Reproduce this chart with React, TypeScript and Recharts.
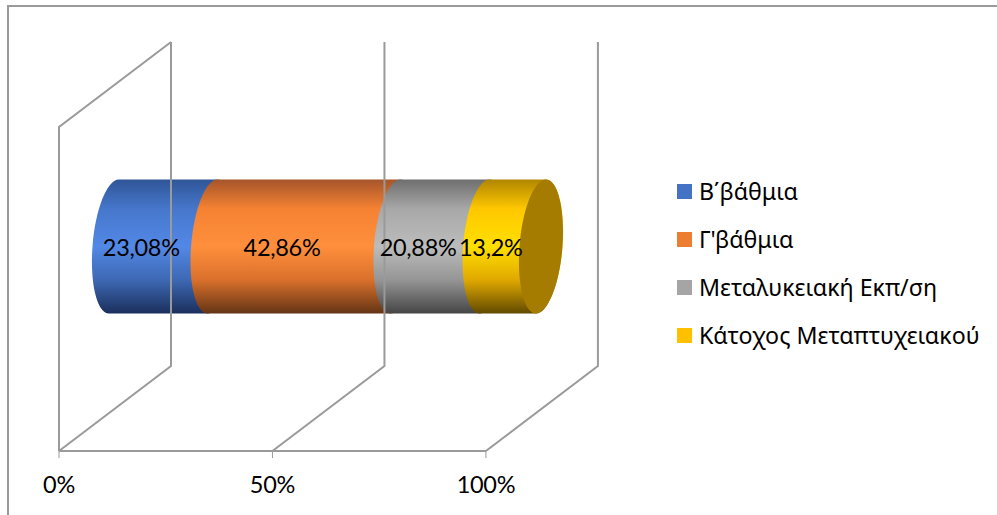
import React from "react";
import { BarChart, Bar, XAxis, YAxis, Legend, LabelList } from "recharts";

const WIDTH = 997;
const HEIGHT = 515;
const FONT = "Lato, 'Noto Sans', sans-serif";
const LEGEND_FONT = "'Noto Sans', Lato, sans-serif";

const categories = ["Επίπεδο εκπαίδευσης"];
const seriesNames = ["Β΄βάθμια", "Γ'βάθμια", "Μεταλυκειακή Εκπ/ση", "Κάτοχος Μεταπτυχειακού"];
const seriesValues = [23.08, 42.86, 20.88, 13.2];
const seriesColors = ["#4472C4", "#ED7D31", "#A5A5A5", "#FFC000"];
const axisTicks = [0, 50, 100];

// vertical shading of each cylinder section: edge, shoulder, middle, lower, edge
const shading = [
  ["#2f5597", "#4677cc", "#5288e6", "#3d68b3", "#1b2f5c"],
  ["#a5552a", "#f58233", "#ff8f3c", "#d9702b", "#643415"],
  ["#6e6e6e", "#a8a8a8", "#bcbcbc", "#959595", "#454545"],
  ["#b08600", "#ffc800", "#ffdf00", "#e0a800", "#614a00"],
];
const capColor = "#a67c00";
const gridColor = "#9a9a9a";

// the floor of the box recedes by this much from front to back
const DEPTH_X = 112;
const DEPTH_Y = 85;
const WALL_HEIGHT = 324;

// cross-section of the cylinder: half width and the lean of its top over its bottom
const CAP_RX = 21.5;
const CAP_LEAN = 5;
const K = 0.5523;

const rows = categories.map((name) => {
  const row: Record<string, string | number> = { name };
  seriesNames.forEach((s, i) => (row[s] = seriesValues[i]));
  return row;
});

const formatPercent = (v: number) => `${String(v).replace(".", ",")}%`;

function Tick3D({ x, y, payload }: any) {
  const backX = x + DEPTH_X;
  const backY = y - DEPTH_Y;
  return (
    <g>
      <line x1={x} y1={y} x2={x} y2={y + 7} stroke={gridColor} strokeWidth={1} />
      <path
        d={`M${x},${y} L${backX},${backY} L${backX},${backY - WALL_HEIGHT}`}
        fill="none"
        stroke={gridColor}
        strokeWidth={2}
      />
      {payload.value === 0 && (
        <path
          d={`M${x},${y} L${x},${y - WALL_HEIGHT} L${backX},${backY - WALL_HEIGHT}`}
          fill="none"
          stroke={gridColor}
          strokeWidth={2}
        />
      )}
      <text x={x} y={y + 42} textAnchor="middle" fontFamily={FONT} fontSize={23.5} letterSpacing={-0.3} fill="#000">
        {payload.value}%
      </text>
    </g>
  );
}

// Maps a point of the unit circle onto the leaning ellipse centred on (cx, cy).
const onCap = (cx: number, cy: number, ry: number, u: number, v: number) =>
  `${cx + CAP_RX * u + CAP_LEAN * v},${cy - ry * v}`;

// Curve down the left side of an ellipse, from its top to its bottom.
const leftSide = (cx: number, cy: number, ry: number) =>
  `C${onCap(cx, cy, ry, -K, 1)} ${onCap(cx, cy, ry, -1, K)} ${onCap(cx, cy, ry, -1, 0)} ` +
  `C${onCap(cx, cy, ry, -1, -K)} ${onCap(cx, cy, ry, -K, -1)} ${onCap(cx, cy, ry, 0, -1)}`;

// Curve up the right side of an ellipse, from its bottom to its top.
const rightSide = (cx: number, cy: number, ry: number) =>
  `C${onCap(cx, cy, ry, K, -1)} ${onCap(cx, cy, ry, 1, -K)} ${onCap(cx, cy, ry, 1, 0)} ` +
  `C${onCap(cx, cy, ry, 1, K)} ${onCap(cx, cy, ry, K, 1)} ${onCap(cx, cy, ry, 0, 1)}`;

function CylinderSection({ x, y, width, height, seriesIndex }: any) {
  // the cylinder sits halfway into the box depth
  const left = x + DEPTH_X / 2 - 1;
  const right = left + width;
  const ry = height / 2;
  const cy = y - DEPTH_Y / 2 + ry;
  const body =
    `M${onCap(left, cy, ry, 0, 1)} ${leftSide(left, cy, ry)} ` +
    `L${onCap(right, cy, ry, 0, -1)} ${rightSide(right, cy, ry)} Z`;
  const cap = `M${onCap(right, cy, ry, 0, 1)} ${leftSide(right, cy, ry)} ${rightSide(right, cy, ry)} Z`;
  return (
    <g>
      <path d={body} fill={`url(#section-${seriesIndex})`} />
      {seriesIndex === seriesNames.length - 1 && <path d={cap} fill={capColor} />}
    </g>
  );
}

function LegendList({ payload }: any) {
  return (
    <div>
      {(payload ?? []).map((item: any) => (
        <div
          key={item.value}
          style={{ height: 48, display: "flex", alignItems: "center", fontFamily: LEGEND_FONT, fontSize: 23.2, color: "#000", whiteSpace: "nowrap" }}
        >
          <span style={{ width: 15, height: 15, background: item.color, marginRight: 7, flex: "none" }} />
          {item.value}
        </div>
      ))}
    </div>
  );
}

export default function App() {
  return (
    <div style={{ position: "absolute", left: 0, top: 0, width: WIDTH, height: HEIGHT, background: "#fff", overflow: "hidden" }}>
      <div style={{ position: "absolute", left: 7, top: 5, width: WIDTH + 20, height: HEIGHT + 20, border: `2px solid ${gridColor}`, boxSizing: "border-box" }} />
      <BarChart
        width={WIDTH}
        height={HEIGHT}
        data={rows}
        layout="vertical"
        barSize={134}
        margin={{ left: 59, right: 191, top: 127, bottom: 0 }}
        style={{ position: "absolute", left: 0, top: 0 }}
      >
        <defs>
          {shading.map((stops, i) => (
            <linearGradient key={i} id={`section-${i}`} x1="0" y1="0" x2="0" y2="1">
              <stop offset="0%" stopColor={stops[0]} />
              <stop offset="22%" stopColor={stops[1]} />
              <stop offset="50%" stopColor={stops[2]} />
              <stop offset="75%" stopColor={stops[3]} />
              <stop offset="100%" stopColor={stops[4]} />
            </linearGradient>
          ))}
        </defs>
        <XAxis
          type="number"
          domain={[0, 100]}
          ticks={axisTicks}
          interval={0}
          height={64}
          stroke={gridColor}
          strokeWidth={2}
          tickLine={false}
          tickSize={0}
          tickMargin={0}
          tick={<Tick3D />}
        />
        <YAxis type="category" dataKey="name" hide />
        <Legend
          layout="vertical"
          align="right"
          verticalAlign="top"
          itemSorter={null}
          wrapperStyle={{ position: "absolute", left: 677, top: 167, width: 320 }}
          content={<LegendList />}
        />
        {seriesNames.map((name, i) => (
          <Bar
            key={name}
            dataKey={name}
            name={name}
            stackId="total"
            fill={seriesColors[i]}
            isAnimationActive={false}
            shape={(props: any) => <CylinderSection {...props} seriesIndex={i} />}
          >
            <LabelList
              dataKey={name}
              position="center"
              dx={33}
              dy={-41}
              formatter={formatPercent}
              fill="#000"
              fontFamily={FONT}
              fontSize={23.5}
              letterSpacing={-0.3}
            />
          </Bar>
        ))}
      </BarChart>
    </div>
  );
}
